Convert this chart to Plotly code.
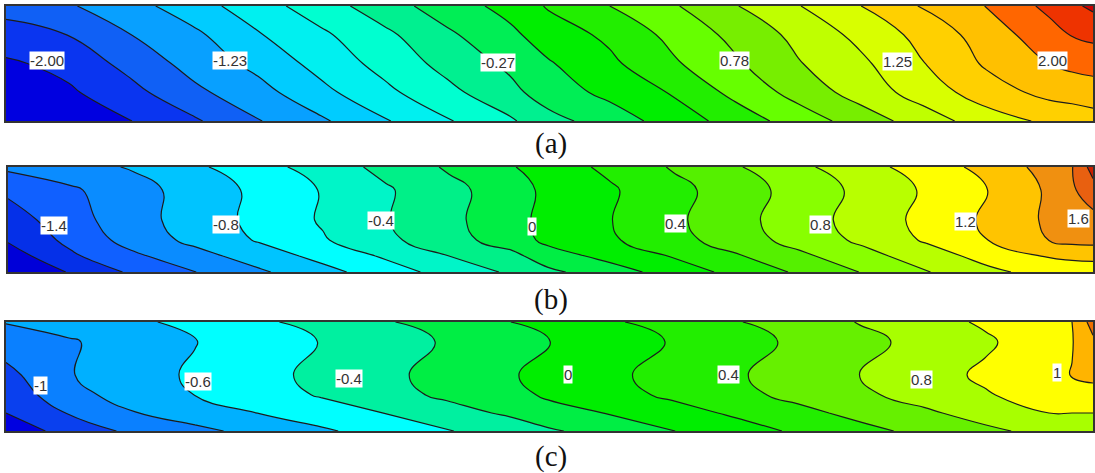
import numpy as np
import plotly.graph_objects as go

W, H = 1095, 473

# Column positions (image x) shared by the grids
x_a = [6,69,132,195,258,321,384,447,510,548,609,672,735,798,860,924,986,1049,1072,1093]
x_b = [8,71,134,197,260,323,386,449,512,548,611,674,737,800,863,926,989,1051,1072,1093]
x_c = [6,69,132,195,258,321,384,447,510,548,609,672,735,798,860,924,986,1049,1072,1093]

# Row positions as a fraction of panel depth
rows_a = [0, 0.25, 0.5, 0.75, 1]
rows_b = [0, 0.22, 0.505, 0.695, 0.848, 1]
rows_c = [0, 0.183, 0.486, 0.67, 0.835, 1]

# Contour-level numbers (1 = first contour line)
levels_a = [
 [2.3,2.9,3.65,4.58,5.57,6.53,7.54,8.5,9.33,10.09,10.99,11.87,12.94,13.95,14.98,16.11,17.02,18.26,18.8,19.2],
 [1.65,2.02,3.01,3.81,4.92,5.82,6.77,7.82,8.78,9.48,10.2,11.27,12.27,13.27,14.27,15.34,16.46,17.59,18.05,18.25],
 [0.83,1.33,2.36,3.39,4.29,5.35,6.33,7.32,8.23,8.9,9.78,10.84,11.85,12.93,13.78,14.98,16.13,17.01,17.25,17.4],
 [0.2,0.85,1.71,2.79,3.64,4.73,5.75,6.73,7.7,8.5,9.25,10.08,11.28,12.35,13.43,14.45,15.52,16.3,16.4,16.5],
 [-0.3,0.4,1.0,1.87,2.94,3.84,4.89,5.9,6.86,7.64,8.48,9.42,10.42,11.47,12.43,13.52,14.49,15.2,15.4,15.6],
]
levels_b = [
 [3.2,3.63,4.1,4.85,5.64,6.46,7.3,8.13,8.93,9.54,10.21,11.11,11.92,12.79,13.64,14.48,15.34,16.42,16.95,18.4],
 [2.2,2.85,3.64,4.44,5.25,6.07,6.88,7.72,8.53,9.26,9.89,10.69,11.54,12.4,13.26,14.13,15.02,16.19,16.85,17.6],
 [1.5,2.59,3.63,4.47,5.29,6.11,6.94,7.77,8.61,9.35,9.98,10.81,11.68,12.54,13.41,14.28,15.19,16.2,16.5,16.68],
 [1.1,2.27,3.42,4.29,5.11,5.91,6.78,7.62,8.49,9.26,9.88,10.65,11.52,12.38,13.21,14.12,15.02,16.07,16.3,16.35],
 [0.5,1.84,2.82,3.66,4.49,5.31,6.14,7.0,7.73,8.53,9.33,10.08,10.9,11.79,12.65,13.51,14.38,15.1,15.2,15.25],
 [-0.1,1.1,2.2,3.01,3.86,4.68,5.53,6.39,7.16,7.78,8.56,9.44,10.32,11.16,12.06,12.94,13.78,14.4,14.45,14.5],
]
levels_c = [
 [3.05,3.4,3.8,4.29,4.82,5.35,5.9,6.45,6.99,7.43,7.87,8.38,8.93,9.49,10.05,10.6,11.15,11.8,12.0,13.4],
 [2.5,2.9,3.43,3.96,4.5,5.03,5.57,6.1,6.54,6.98,7.52,8.06,8.62,9.18,9.73,10.29,10.85,11.65,11.95,12.8],
 [1.7,2.94,3.56,4.15,4.69,5.24,5.78,6.33,6.89,7.36,7.81,8.32,8.88,9.45,10.02,10.59,11.18,11.83,12.03,12.2],
 [1.35,2.64,3.43,4.01,4.55,5.08,5.65,6.18,6.66,7.15,7.65,8.17,8.72,9.27,9.82,10.37,10.92,11.45,11.6,11.7],
 [1.0,2.06,2.94,3.49,4.01,4.51,5.01,5.61,6.16,6.6,7.05,7.6,8.15,8.72,9.28,9.83,10.4,11.0,11.0,11.0],
 [0.4,1.36,2.21,2.75,3.3,3.85,4.4,4.95,5.41,5.86,6.4,6.97,7.56,8.15,8.71,9.26,9.8,10.3,10.4,10.5],
]

# Band colours, lowest to highest
colors_a = ["#0000e0","#0a35f0","#1060f5","#08a0ff","#00ccff","#00f0f0","#00ffd0","#00f090","#00ee55","#00ee00",
            "#22ee00","#66ff00","#77ee00","#bfff00","#d8ff00","#ffd000","#ffc000","#ff6600","#ee3300","#cc0000"]
colors_b = ["#0000d8","#0530e8","#1060ff","#0a8cff","#00c4ff","#00ffff","#00f5c8","#00f088","#00ee44","#00ee00",
            "#22ee00","#55f000","#88ff00","#b8ff00","#ffff00","#ffc400","#f09010","#e86010","#cc2000"]
colors_c = ["#0000e0","#0a40ee","#0a80ff","#00b0ff","#00ffff","#00f0a0","#00ee44","#00ee00","#22ee00","#66f000",
            "#a8ff00","#ffff00","#ffb400","#ee7000"]

labels_a = ["-2.00","-1.23","-0.27","0.78","1.25","2.00"]
label_x_a = [47,230,498,734,897,1052]
label_y_a = [0.47,0.47,0.49,0.47,0.48,0.47]
labels_b = ["-1.4","-0.8","-0.4","0","0.4","0.8","1.2","1.6"]
label_x_b = [54,226,381,532,675,820,965,1078]
label_y_b = [0.56,0.55,0.51,0.57,0.54,0.55,0.52,0.49]
labels_c = ["-1","-0.6","-0.4","0","0.4","0.8","1"]
label_x_c = [40,198,349,568,728,921,1057]
label_y_c = [0.58,0.55,0.52,0.48,0.48,0.53,0.46]

captions = ["(a)","(b)","(c)"]
caption_y = [143,299,456]

panels = [
 dict(x=x_a, rows=rows_a, lv=levels_a, col=colors_a, start=-2.0, step=0.25, box=(6,1093,6,121),
      lab=labels_a, lx=label_x_a, ly=label_y_a),
 dict(x=x_b, rows=rows_b, lv=levels_b, col=colors_b, start=-1.6, step=0.2, box=(8,1093,167,272),
      lab=labels_b, lx=label_x_b, ly=label_y_b),
 dict(x=x_c, rows=rows_c, lv=levels_c, col=colors_c, start=-1.2, step=0.2, box=(6,1093,322,431),
      lab=labels_c, lx=label_x_c, ly=label_y_c),
]

fig = go.Figure()
for i, p in enumerate(panels):
    n = i + 1
    xa = "x" if n == 1 else f"x{n}"
    ya = "y" if n == 1 else f"y{n}"
    z = p["start"] + p["step"] * (np.array(p["lv"]) - 1)
    nb = len(p["col"])
    fig.add_trace(go.Contour(
        x=p["x"], y=p["rows"], z=z, xaxis=xa, yaxis=ya, showscale=False,
        autocontour=False,
        contours=dict(start=p["start"], end=p["start"] + p["step"] * (nb - 2), size=p["step"], coloring="fill"),
        colorscale=[[j / (nb - 1), c] for j, c in enumerate(p["col"])],
        line=dict(color="#1c1c1c", width=1.2, smoothing=1.3),
        hoverinfo="skip",
    ))
    x0, x1, y0, y1 = p["box"]
    axx = dict(domain=[x0 / W, x1 / W], range=[x0, x1], showticklabels=False, ticks="", showgrid=False,
               zeroline=False, showline=True, mirror=True, linecolor="#333333", linewidth=1.5,
               anchor=ya)
    axy = dict(domain=[1 - y1 / H, 1 - y0 / H], range=[1, 0], showticklabels=False, ticks="", showgrid=False,
               zeroline=False, showline=True, mirror=True, linecolor="#333333", linewidth=1.5,
               anchor=xa)
    fig.update_layout({("xaxis" if n == 1 else f"xaxis{n}"): axx,
                       ("yaxis" if n == 1 else f"yaxis{n}"): axy})
    for t, lx, ly in zip(p["lab"], p["lx"], p["ly"]):
        fig.add_annotation(x=lx, y=ly, xref=xa, yref=ya, text=t, showarrow=False,
                           bgcolor="white", borderpad=0,
                           font=dict(family="Liberation Sans", size=15, color="#333333"))
    fig.add_annotation(x=551 / W, y=1 - caption_y[i] / H, xref="paper", yref="paper", text=captions[i],
                       xanchor="center", yanchor="middle",
                       showarrow=False, font=dict(family="Liberation Serif", size=29, color="#111111"))

fig.update_layout(width=W, height=H, margin=dict(l=0, r=0, t=0, b=0), paper_bgcolor="white",
                  plot_bgcolor="white", showlegend=False)
fig.write_html("out.html", post_script="document.body.style.margin='0';",
               config={"displayModeBar": False})
